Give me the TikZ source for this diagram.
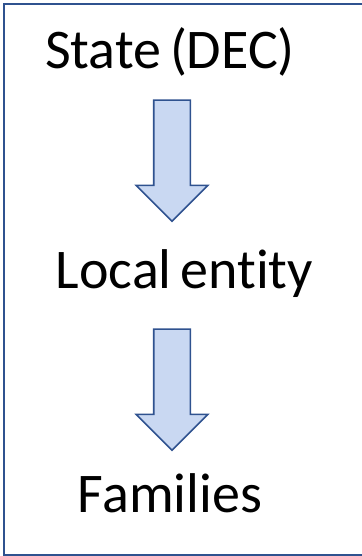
\documentclass[tikz,border=0pt]{standalone}
\usepackage{fontspec}
\setmainfont[Ligatures=NoCommon,WordSpace=0.7]{Carlito}
\usetikzlibrary{shapes.arrows}
\definecolor{boxblue}{HTML}{2F528F}
\definecolor{arrowfill}{HTML}{C9D8F2}

\begin{document}
\begin{tikzpicture}[x=1pt,y=-1pt]

\tikzset{level/.style = {anchor=base,inner sep=0pt,font=\fontsize{56}{60}\selectfont}}
\tikzset{down/.style = {single arrow,rotate=-90,draw=boxblue,line width=1.6pt,fill=arrowfill,
  inner sep=0pt,text height=35pt,text depth=0pt,minimum height=121pt,single arrow head extend=17.5pt,
  single arrow head indent=0pt,shape border uses incircle=false}}
\useasboundingbox (0,0) rectangle (361,556);
% frame
\draw[boxblue,line width=2pt] (4,4) rectangle (364,555);
% levels
\node[level] (State) at (170,69) {State (DEC)};
\node[level] (Local) at (184.5,288) {Local entity};
\node[level] (Families) at (170,512) {Families};
% arrows
\node[down] (Arrow1) at (172,151.5) {};
\node[down] (Arrow2) at (172,380.5) {};
\end{tikzpicture}
\end{document}
